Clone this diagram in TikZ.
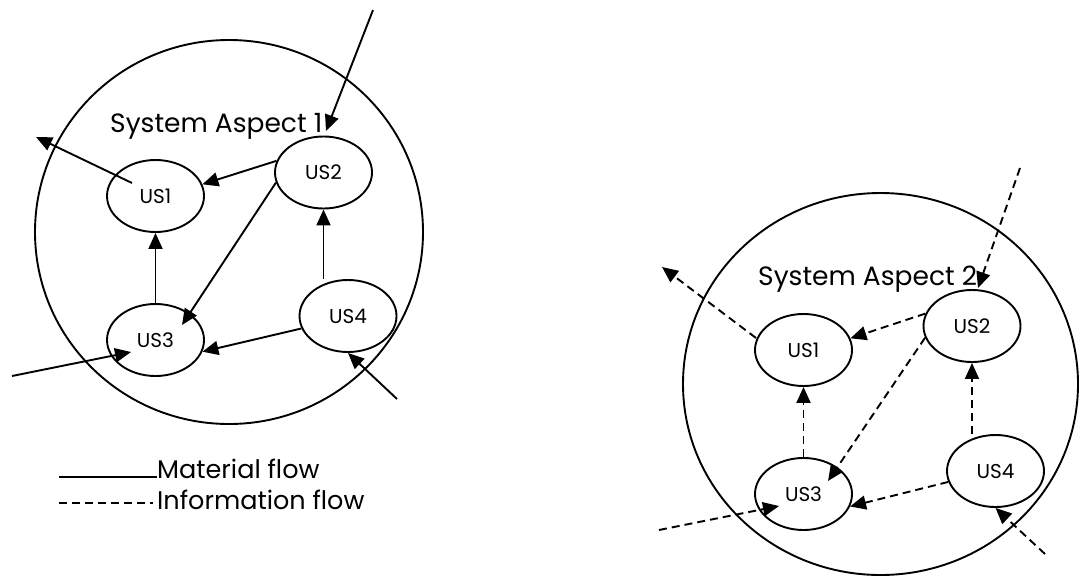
\documentclass[tikz,border=0pt]{standalone}
\usepackage{fontspec}
\setmainfont{Poppins}
\usetikzlibrary{arrows.meta,shapes.geometric,calc}
\begin{document}
\begin{tikzpicture}[x=1pt,y=-1pt,
  unit/.style={draw,ellipse,line width=1.9pt,minimum width=97pt,minimum height=72pt,inner sep=0pt,font=\fontsize{20}{23}\selectfont},
  big/.style={draw,ellipse,line width=1.9pt,inner sep=0pt},
  flow/.style={line width=1.9pt,-{Triangle[length=16pt,width=14pt]}},
  info/.style={flow,dash pattern=on 8pt off 5pt},
  title/.style={anchor=base west,inner sep=0pt,font=\fontsize{26.5}{30}\selectfont},
  legtext/.style={anchor=base west,inner sep=0pt,font=\fontsize{25.5}{30}\selectfont}]
\useasboundingbox (0,0) rectangle (1081,576);
% ---------- System aspect 1 ----------
\node[big,minimum width=388pt,minimum height=384pt] (C1) at (229,232) {};
\node[title] (T1) at (110,132) {System Aspect 1};
\node[unit] (A1) at (155.5,196) {US1};
\node[unit] (A2) at (323.5,172.5) {US2};
\node[unit] (A3) at (155.5,340) {US3};
\node[unit] (A4) at (348,316) {US4};
\coordinate (a1in) at (373,10);
\coordinate (a1tip) at (326,131);
\coordinate (a1s) at (132,183);
\coordinate (a1out) at (36,137);
\coordinate (a23tip) at (182,325);
\coordinate (a3in) at (12,376);
\coordinate (a3tip) at (131,352);
\coordinate (a4in) at (397,399);
\draw[flow] (a1in) -- (a1tip);
\draw[flow] (a1s) -- (a1out);
\draw[flow] (A2.166) -- (A1.14);
\draw[flow] (A2.192) -- (a23tip);
\draw[flow] (A3.north) -- (A1.south);
\draw[flow] (A2.south |- A4.north) -- (A2.south);
\draw[flow] (A4.195) -- (A3.346);
\draw[flow] (a3in) -- (a3tip);
\draw[flow] (a4in) -- (A4.south);
% ---------- Legend ----------
\coordinate (l1a) at (59,477);
\coordinate (l2a) at (59,503);
\node[legtext] (L1) at (157,478) {Material flow};
\node[legtext] (L2) at (157,509) {Information flow};
\draw[line width=1.6pt] (l1a) -- (l1a -| L1.west);
\draw[line width=1.2pt,dash pattern=on 8pt off 5pt] (l2a) -- ($(l2a -| L2.west)+(-4,0)$);
% ---------- System aspect 2 ----------
\node[big,minimum width=395pt,minimum height=382pt] (C2) at (880.5,384) {};
\node[title] (T2) at (758,285) {System Aspect 2};
\node[unit] (B1) at (803.5,350) {US1};
\node[unit] (B2) at (972,326) {US2};
\node[unit] (B3) at (803.5,494) {US3};
\node[unit] (B4) at (995.5,471) {US4};
\coordinate (b1in) at (1020,168);
\coordinate (b1tip) at (978,288);
\coordinate (b1s) at (756,338);
\coordinate (b1out) at (662,267);
\coordinate (b23tip) at (828,481);
\coordinate (b3in) at (659,530);
\coordinate (b3tip) at (779,506);
\coordinate (b4in) at (1045,554);
\draw[info] (b1in) -- (b1tip);
\draw[info] (b1s) -- (b1out);
\draw[info] (B2.165) -- (B1.14);
\draw[info] (B2.194) -- (b23tip);
\draw[info] (B3.north) -- (B1.south);
\draw[info] (B2.south |- B4.north) -- (B2.south);
\draw[info] (B4.193) -- (B3.345);
\draw[info] (b3in) -- (b3tip);
\draw[info] (b4in) -- (B4.south);
\end{tikzpicture}
\end{document}
